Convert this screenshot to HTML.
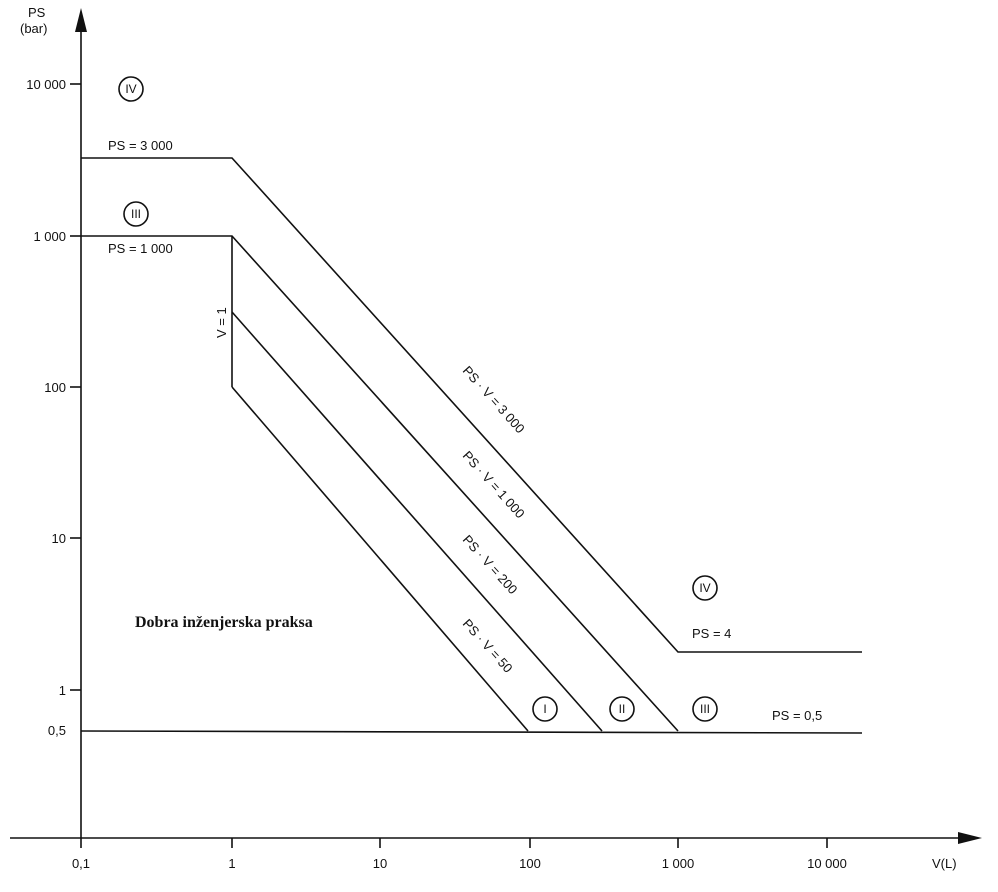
<!DOCTYPE html>
<html><head><meta charset="utf-8"><style>
body{margin:0;background:#fff}
svg text{font-family:"Liberation Sans",sans-serif;font-size:13px;fill:#111}
</style></head><body>
<svg width="998" height="887" viewBox="0 0 998 887" xmlns="http://www.w3.org/2000/svg">
<g stroke="#111" stroke-width="1.6" fill="none">
<line x1="81" y1="22" x2="81" y2="838"/>
<line x1="10" y1="838" x2="960" y2="838"/>
<line x1="70" y1="84" x2="81" y2="84"/><line x1="70" y1="236" x2="81" y2="236"/>
<line x1="70" y1="387" x2="81" y2="387"/><line x1="70" y1="538" x2="81" y2="538"/>
<line x1="70" y1="690" x2="81" y2="690"/>
<line x1="232" y1="838" x2="232" y2="848"/><line x1="380" y1="838" x2="380" y2="848"/>
<line x1="530" y1="838" x2="530" y2="848"/><line x1="678" y1="838" x2="678" y2="848"/>
<line x1="827" y1="838" x2="827" y2="848"/><line x1="81" y1="838" x2="81" y2="848"/>
<polyline points="81,158 232,158 678,652 862,652"/>
<polyline points="81,236 232,236 678,731"/>
<line x1="232" y1="236" x2="232" y2="387"/>
<line x1="232" y1="312" x2="602" y2="731"/>
<line x1="232" y1="387" x2="528" y2="731"/>
<line x1="81" y1="731" x2="862" y2="733"/>
<circle cx="131" cy="89" r="12"/><circle cx="136" cy="214" r="12"/>
<circle cx="705" cy="588" r="12"/><circle cx="545" cy="709" r="12"/>
<circle cx="622" cy="709" r="12"/><circle cx="705" cy="709" r="12"/>
</g>
<polygon points="81,8 75,32 87,32" fill="#111"/>
<polygon points="982,838 958,832 958,844" fill="#111"/>
<text x="28" y="17">PS</text><text x="20" y="33">(bar)</text>
<g text-anchor="end"><text x="66" y="89">10 000</text><text x="66" y="241">1 000</text>
<text x="66" y="392">100</text><text x="66" y="543">10</text><text x="66" y="695">1</text><text x="66" y="735">0,5</text></g>
<g text-anchor="middle"><text x="81" y="868">0,1</text><text x="232" y="868">1</text><text x="380" y="868">10</text>
<text x="530" y="868">100</text><text x="678" y="868">1 000</text><text x="827" y="868">10 000</text></g>
<text x="932" y="868">V(L)</text>
<g text-anchor="middle"><text x="131" y="93" style="font-size:12px">IV</text><text x="136" y="218" style="font-size:12px">III</text>
<text x="705" y="592" style="font-size:12px">IV</text><text x="545" y="713" style="font-size:12px">I</text>
<text x="622" y="713" style="font-size:12px">II</text><text x="705" y="713" style="font-size:12px">III</text></g>
<text x="108" y="150">PS = 3 000</text>
<text x="108" y="253">PS = 1 000</text>
<text x="692" y="638">PS = 4</text>
<text x="772" y="720">PS = 0,5</text>
<text transform="translate(226,338) rotate(-90)">V = 1</text>
<text transform="translate(462,371) rotate(48)">PS · V = 3 000</text>
<text transform="translate(462,456) rotate(48)">PS · V = 1 000</text>
<text transform="translate(462,540) rotate(48)">PS · V = 200</text>
<text transform="translate(462,624) rotate(48)">PS · V = 50</text>
<text x="135" y="627" style="font-family:'Liberation Serif',serif;font-weight:bold;font-size:16px">Dobra inženjerska praksa</text>
</svg>
</body></html>
